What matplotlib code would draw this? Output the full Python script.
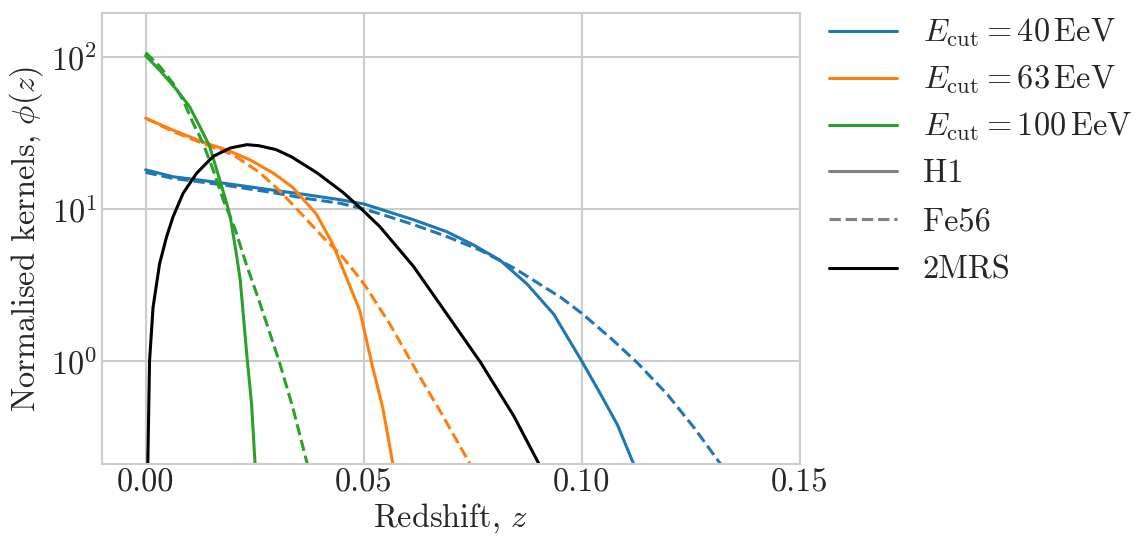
import matplotlib
matplotlib.use("Agg")
import matplotlib.pyplot as plt
from matplotlib.lines import Line2D

# Kernel values (redshift z, normalised kernel phi)
z_h1_40 = [0, 0.0063, 0.0178, 0.0293, 0.037, 0.0447, 0.05, 0.0537, 0.0614, 0.069,
           0.0752, 0.0813, 0.0875, 0.0936, 0.1, 0.1044, 0.1082, 0.112, 0.114]
phi_h1_40 = [18.1, 16.3, 14.8, 13.3, 12.4, 11.5, 10.8, 10.0, 8.5, 7.1,
             5.8, 4.6, 3.2, 2.03, 1.0, 0.6, 0.38, 0.207, 0.15]

z_fe_40 = [0, 0.0063, 0.0178, 0.0293, 0.037, 0.0447, 0.05, 0.0537, 0.0614, 0.069,
           0.0767, 0.0844, 0.0952, 0.1, 0.1067, 0.1128, 0.1197, 0.1259, 0.132, 0.134]
phi_fe_40 = [17.4, 15.9, 14.4, 12.8, 11.7, 10.9, 10.0, 9.3, 7.9, 6.6,
             5.36, 4.1, 2.62, 2.06, 1.41, 0.97, 0.6, 0.36, 0.207, 0.18]

z_h1_63 = [0, 0.0063, 0.014, 0.0186, 0.024, 0.0293, 0.0337, 0.0391, 0.0429, 0.046,
           0.0491, 0.0521, 0.0544, 0.0567, 0.058]
phi_h1_63 = [39.6, 33, 27, 24.5, 21, 17.2, 13.9, 9.3, 5.9, 3.57,
             2.15, 0.9, 0.49, 0.21, 0.15]

z_fe_63 = [0, 0.0063, 0.014, 0.0201, 0.026, 0.0306, 0.036, 0.0414, 0.0445, 0.0491,
           0.0506, 0.056, 0.0621, 0.0675, 0.0744, 0.076]
phi_fe_63 = [39.6, 32.3, 26.4, 22.7, 17.5, 13.3, 9.1, 6.2, 5.1, 3.5,
             3.05, 1.75, 0.86, 0.47, 0.21, 0.18]

z_h1_100 = [0, 0.0032, 0.0071, 0.0101, 0.0124, 0.0147, 0.017, 0.0186, 0.0194, 0.0207,
            0.0217, 0.0232, 0.0243, 0.0251, 0.026]
phi_h1_100 = [102, 82, 61, 47, 35, 25.8, 15.5, 10.9, 8.9, 5.3,
              3.4, 1.1, 0.52, 0.21, 0.12]

z_fe_100 = [0, 0.0032, 0.0063, 0.0086, 0.0109, 0.0132, 0.0155, 0.0178, 0.0205, 0.023,
            0.026, 0.0306, 0.0337, 0.0369, 0.0375]
phi_fe_100 = [107, 87, 67, 52, 36.7, 27, 18, 11.5, 7.4, 4.4,
              2.5, 1.0, 0.5, 0.22, 0.19]

z_2mrs = [0.0, 0.0005, 0.0009, 0.0017, 0.0032, 0.0048, 0.0063, 0.0086, 0.0117, 0.0155,
          0.0194, 0.0232, 0.0259, 0.0299, 0.0335, 0.0393, 0.0452, 0.0495, 0.0537, 0.0583,
          0.0614, 0.069, 0.0767, 0.0844, 0.0906, 0.092]
phi_2mrs = [0.01, 0.21, 1.0, 2.25, 4.36, 6.56, 8.9, 12.7, 17.2, 22.2,
            25.2, 26.5, 26.1, 24.6, 22, 17.3, 12.9, 10.0, 7.66, 5.35,
            4.2, 2.05, 0.99, 0.436, 0.2, 0.15]

energias = ["40", "63", "100"]
colores = ["#1f77b4", "#ff7f0e", "#2ca02c"]

plt.style.use("seaborn-v0_8-whitegrid")
plt.rcParams["font.family"] = "serif"
plt.rcParams["font.serif"] = ["cmr10", "DejaVu Serif"]
plt.rcParams["mathtext.fontset"] = "cm"
plt.rcParams["axes.formatter.use_mathtext"] = True
plt.rcParams["axes.unicode_minus"] = False
plt.rcParams["grid.linewidth"] = 1.5
plt.rcParams["axes.linewidth"] = 1.5

FS = 23.3

fig, ax = plt.subplots(figsize=(11.36, 5.38), dpi=100)
fig.subplots_adjust(left=0.0898, right=0.704, bottom=0.1375, top=0.976)

lw = 2.2
ax.plot(z_h1_40, phi_h1_40, color=colores[0], lw=lw)
ax.plot(z_fe_40, phi_fe_40, color=colores[0], lw=lw, ls="--")
ax.plot(z_h1_63, phi_h1_63, color=colores[1], lw=lw)
ax.plot(z_fe_63, phi_fe_63, color=colores[1], lw=lw, ls="--")
ax.plot(z_h1_100, phi_h1_100, color=colores[2], lw=lw)
ax.plot(z_fe_100, phi_fe_100, color=colores[2], lw=lw, ls="--")
ax.plot(z_2mrs, phi_2mrs, color="black", lw=lw)

ax.set_yscale("log")
ax.set_xlim(-0.01, 0.15)
ax.set_ylim(0.21, 195)
ax.set_xticks([0.0, 0.05, 0.10, 0.15])
ax.set_xticklabels(["0.00", "0.05", "0.10", "0.15"])
ax.tick_params(labelsize=FS)
ax.minorticks_off()

ax.set_xlabel(r"Redshift, $z$", fontsize=FS, labelpad=2)
ax.set_ylabel(r"Normalised kernels, $\phi(z)$", fontsize=FS, labelpad=4)

# Leyenda en dos bloques para igualar el espaciado de filas
h_energia = [Line2D([], [], color=c, lw=lw,
                    label=r"$E_\mathrm{cut} = %s\,\mathrm{EeV}$" % e)
             for e, c in zip(energias, colores)]
h_tipo = [Line2D([], [], color="gray", lw=lw, label="H1"),
          Line2D([], [], color="gray", lw=lw, ls="--", label="Fe56"),
          Line2D([], [], color="black", lw=lw, label="2MRS")]

leg1 = ax.legend(handles=h_energia, loc="upper left", bbox_to_anchor=(1.023, 1.02),
                 borderaxespad=0, fontsize=FS, frameon=False, handlelength=2.1,
                 labelspacing=0.45, handletextpad=0.8)
ax.add_artist(leg1)
ax.legend(handles=h_tipo, loc="upper left", bbox_to_anchor=(1.023, 0.705),
          borderaxespad=0, fontsize=FS, frameon=False, handlelength=2.1,
          labelspacing=0.6, handletextpad=0.8)

fig.savefig("out.png", dpi=100)
